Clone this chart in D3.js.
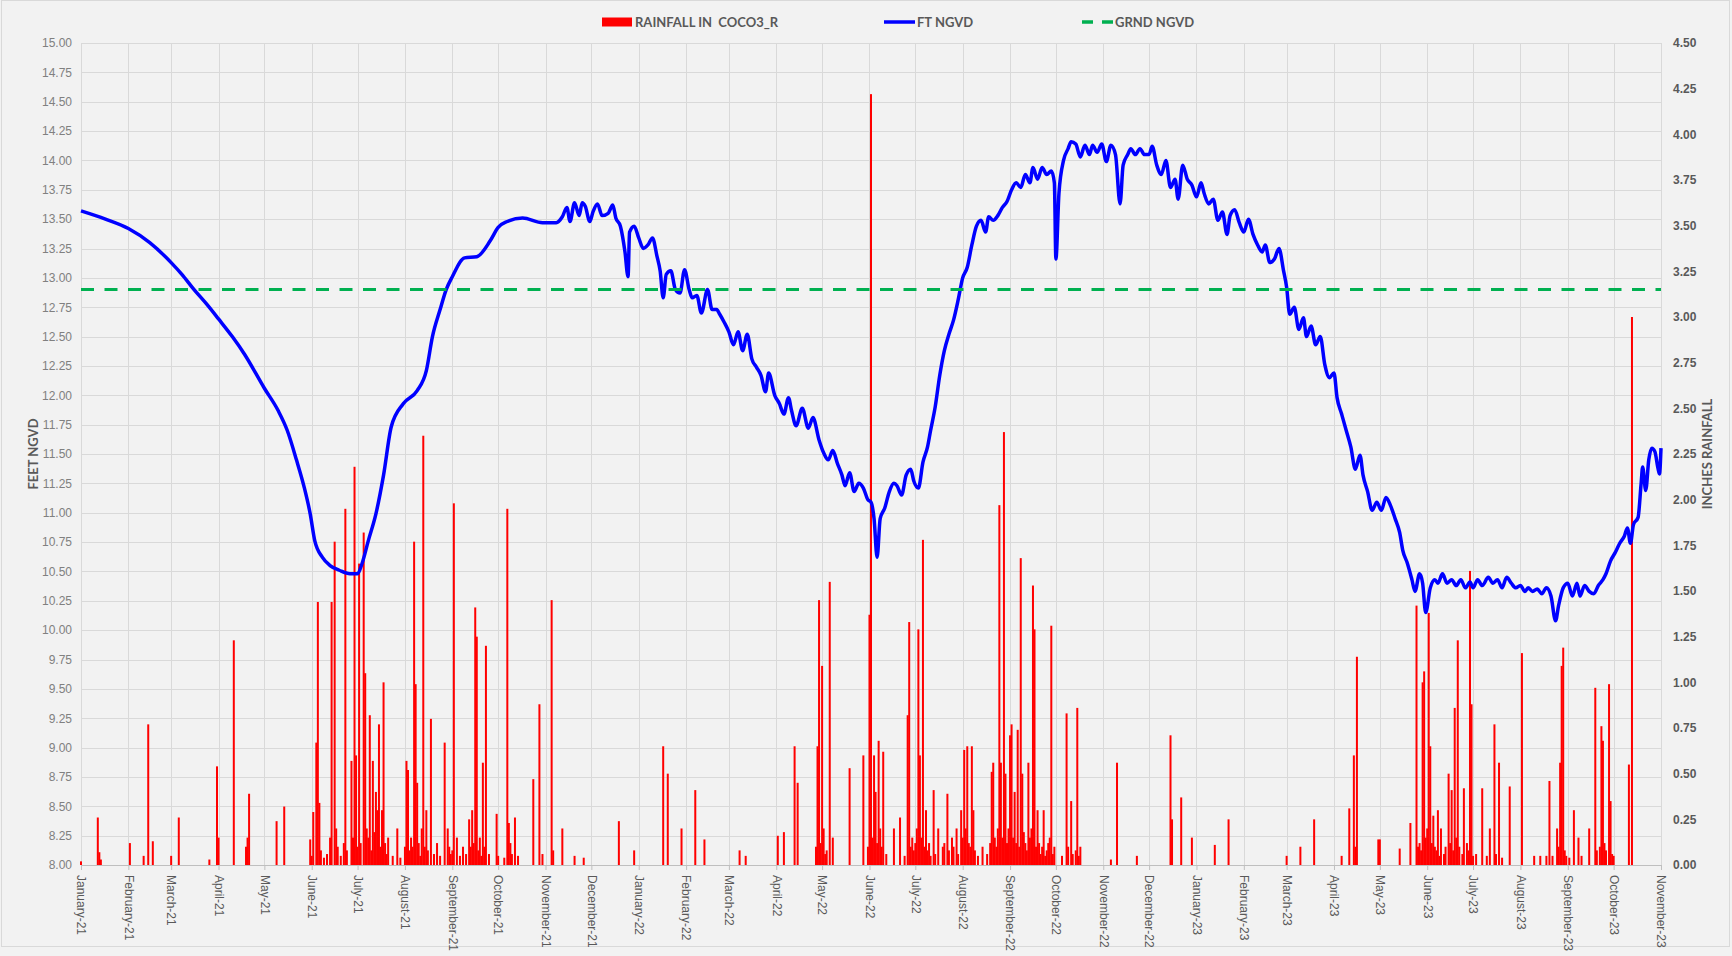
<!DOCTYPE html>
<html>
<head>
<meta charset="utf-8">
<script src="https://cdn.jsdelivr.net/npm/d3@7"></script>
<style>
  body { margin: 0; background: #f2f2f2; }
  svg { display: block; font-family: Lato, "Open Sans", sans-serif; }
</style>
</head>
<body>
<svg width="1732" height="956"></svg>
<script>
// water level (ft NGVD)
const levelDates = [
  "2021-01-01", "2021-01-17", "2021-02-01", "2021-02-15", "2021-03-01", "2021-03-08", "2021-03-16", "2021-03-24", "2021-04-01", "2021-04-10",
  "2021-04-18", "2021-05-01", "2021-05-10", "2021-05-16", "2021-05-22", "2021-05-27", "2021-05-31", "2021-06-03", "2021-06-08", "2021-06-13",
  "2021-06-19", "2021-06-26", "2021-07-01", "2021-07-04", "2021-07-08", "2021-07-13", "2021-07-18", "2021-07-23", "2021-07-31", "2021-08-09",
  "2021-08-15", "2021-08-19", "2021-08-24", "2021-08-28", "2021-09-01", "2021-09-09", "2021-09-17", "2021-09-26", "2021-10-01", "2021-10-07",
  "2021-10-17", "2021-10-30", "2021-11-08", "2021-11-12", "2021-11-15", "2021-11-17", "2021-11-20", "2021-11-23", "2021-11-25", "2021-11-27",
  "2021-11-30", "2021-12-02", "2021-12-05", "2021-12-08", "2021-12-12", "2021-12-15", "2021-12-17", "2021-12-20", "2021-12-23", "2021-12-25",
  "2021-12-26", "2021-12-29", "2022-01-01", "2022-01-04", "2022-01-07", "2022-01-10", "2022-01-13", "2022-01-15", "2022-01-17", "2022-01-19",
  "2022-01-22", "2022-01-25", "2022-01-28", "2022-01-31", "2022-02-03", "2022-02-05", "2022-02-08", "2022-02-11", "2022-02-15", "2022-02-18",
  "2022-02-21", "2022-02-23", "2022-02-26", "2022-03-01", "2022-03-04", "2022-03-07", "2022-03-10", "2022-03-13", "2022-03-16", "2022-03-19",
  "2022-03-22", "2022-03-25", "2022-03-27", "2022-03-31", "2022-04-03", "2022-04-06", "2022-04-09", "2022-04-11", "2022-04-14", "2022-04-18",
  "2022-04-22", "2022-04-25", "2022-04-29", "2022-05-02", "2022-05-05", "2022-05-08", "2022-05-11", "2022-05-14", "2022-05-16", "2022-05-19",
  "2022-05-22", "2022-05-25", "2022-05-28", "2022-05-31", "2022-06-02", "2022-06-04", "2022-06-06", "2022-06-08", "2022-06-11", "2022-06-14",
  "2022-06-17", "2022-06-19", "2022-06-22", "2022-06-25", "2022-06-28", "2022-06-30", "2022-07-03", "2022-07-06", "2022-07-09", "2022-07-11",
  "2022-07-14", "2022-07-17", "2022-07-20", "2022-07-23", "2022-07-26", "2022-07-29", "2022-08-01", "2022-08-04", "2022-08-07", "2022-08-10",
  "2022-08-13", "2022-08-16", "2022-08-18", "2022-08-21", "2022-08-24", "2022-08-27", "2022-08-30", "2022-09-02", "2022-09-05", "2022-09-08",
  "2022-09-11", "2022-09-14", "2022-09-16", "2022-09-19", "2022-09-22", "2022-09-25", "2022-09-28", "2022-09-30", "2022-10-01", "2022-10-03",
  "2022-10-06", "2022-10-09", "2022-10-11", "2022-10-14", "2022-10-17", "2022-10-20", "2022-10-23", "2022-10-25", "2022-10-28", "2022-10-31",
  "2022-11-03", "2022-11-06", "2022-11-09", "2022-11-12", "2022-11-14", "2022-11-17", "2022-11-19", "2022-11-22", "2022-11-25", "2022-11-28",
  "2022-12-01", "2022-12-03", "2022-12-06", "2022-12-09", "2022-12-12", "2022-12-15", "2022-12-18", "2022-12-20", "2022-12-23", "2022-12-26",
  "2022-12-29", "2023-01-01", "2023-01-04", "2023-01-06", "2023-01-09", "2023-01-12", "2023-01-15", "2023-01-18", "2023-01-21", "2023-01-23",
  "2023-01-26", "2023-01-29", "2023-02-01", "2023-02-04", "2023-02-07", "2023-02-10", "2023-02-13", "2023-02-15", "2023-02-18", "2023-02-21",
  "2023-02-24", "2023-02-27", "2023-03-01", "2023-03-03", "2023-03-06", "2023-03-09", "2023-03-12", "2023-03-14", "2023-03-17", "2023-03-20",
  "2023-03-23", "2023-03-26", "2023-03-29", "2023-04-01", "2023-04-03", "2023-04-06", "2023-04-09", "2023-04-12", "2023-04-15", "2023-04-18",
  "2023-04-20", "2023-04-23", "2023-04-26", "2023-04-29", "2023-05-02", "2023-05-05", "2023-05-08", "2023-05-11", "2023-05-14", "2023-05-16",
  "2023-05-19", "2023-05-22", "2023-05-24", "2023-05-27", "2023-05-29", "2023-05-31", "2023-06-03", "2023-06-06", "2023-06-08", "2023-06-11",
  "2023-06-14", "2023-06-17", "2023-06-20", "2023-06-23", "2023-06-26", "2023-06-29", "2023-07-01", "2023-07-04", "2023-07-07", "2023-07-11",
  "2023-07-14", "2023-07-17", "2023-07-20", "2023-07-23", "2023-07-26", "2023-07-29", "2023-08-01", "2023-08-04", "2023-08-06", "2023-08-09",
  "2023-08-12", "2023-08-15", "2023-08-18", "2023-08-21", "2023-08-24", "2023-08-26", "2023-08-29", "2023-09-01", "2023-09-04", "2023-09-07",
  "2023-09-09", "2023-09-12", "2023-09-15", "2023-09-18", "2023-09-21", "2023-09-24", "2023-09-26", "2023-09-29", "2023-10-02", "2023-10-05",
  "2023-10-08", "2023-10-10", "2023-10-12", "2023-10-14", "2023-10-17", "2023-10-19", "2023-10-20", "2023-10-22", "2023-10-24", "2023-10-26",
  "2023-10-28", "2023-10-30", "2023-10-31", "2023-11-01"
];
const levelFeet = [
  13.57, 13.50, 13.42, 13.30, 13.13, 13.03, 12.90, 12.78, 12.65, 12.50,
  12.35, 12.06, 11.87, 11.70, 11.45, 11.22, 10.99, 10.76, 10.62, 10.55,
  10.51, 10.48, 10.48, 10.57, 10.76, 10.99, 11.32, 11.73, 11.93, 12.04,
  12.21, 12.50, 12.73, 12.90, 13.01, 13.17, 13.18, 13.32, 13.43, 13.48,
  13.51, 13.47, 13.47, 13.52, 13.60, 13.48, 13.64, 13.53, 13.64, 13.61,
  13.48, 13.56, 13.63, 13.53, 13.55, 13.62, 13.51, 13.44, 13.22, 13.01,
  13.39, 13.44, 13.34, 13.25, 13.28, 13.34, 13.18, 13.06, 12.83, 13.03,
  13.06, 12.90, 12.87, 13.07, 12.90, 12.83, 12.85, 12.70, 12.90, 12.73,
  12.73, 12.69, 12.62, 12.54, 12.43, 12.54, 12.38, 12.52, 12.31, 12.24,
  12.17, 12.03, 12.19, 12.00, 11.93, 11.84, 11.98, 11.87, 11.74, 11.89,
  11.72, 11.81, 11.62, 11.51, 11.45, 11.53, 11.42, 11.32, 11.23, 11.34,
  11.18, 11.25, 11.21, 11.11, 11.09, 10.95, 10.62, 10.95, 11.04, 11.18,
  11.25, 11.23, 11.15, 11.32, 11.37, 11.27, 11.21, 11.43, 11.56, 11.70,
  11.90, 12.17, 12.38, 12.52, 12.64, 12.81, 13.00, 13.09, 13.28, 13.44,
  13.49, 13.39, 13.52, 13.49, 13.53, 13.60, 13.65, 13.75, 13.81, 13.77,
  13.88, 13.81, 13.94, 13.84, 13.94, 13.88, 13.91, 13.81, 13.16, 13.72,
  14.00, 14.10, 14.16, 14.14, 14.03, 14.13, 14.05, 14.13, 14.07, 14.14,
  13.99, 14.13, 14.05, 13.63, 13.96, 14.05, 14.10, 14.05, 14.10, 14.05,
  14.05, 14.12, 13.96, 13.88, 14.00, 13.77, 13.84, 13.67, 13.96, 13.84,
  13.79, 13.69, 13.81, 13.72, 13.63, 13.67, 13.49, 13.56, 13.37, 13.53,
  13.58, 13.47, 13.39, 13.50, 13.37, 13.28, 13.22, 13.28, 13.13, 13.16,
  13.25, 13.06, 12.92, 12.69, 12.75, 12.56, 12.66, 12.50, 12.59, 12.43,
  12.50, 12.26, 12.15, 12.19, 11.98, 11.84, 11.70, 11.56, 11.37, 11.49,
  11.32, 11.18, 11.02, 11.09, 11.02, 11.13, 11.06, 10.95, 10.83, 10.68,
  10.57, 10.43, 10.33, 10.48, 10.40, 10.15, 10.36, 10.43, 10.40, 10.48,
  10.40, 10.43, 10.38, 10.43, 10.36, 10.41, 10.36, 10.43, 10.38, 10.45,
  10.40, 10.43, 10.36, 10.45, 10.40, 10.36, 10.38, 10.33, 10.36, 10.33,
  10.35, 10.31, 10.36, 10.29, 10.08, 10.21, 10.36, 10.40, 10.29, 10.40,
  10.29, 10.38, 10.33, 10.31, 10.38, 10.43, 10.48, 10.59, 10.66, 10.74,
  10.80, 10.87, 10.74, 10.90, 10.96, 11.25, 11.39, 11.19, 11.45, 11.55,
  11.52, 11.38, 11.33, 11.55
];

// daily rainfall (inches)
const rainDates = [
  "2021-01-01", "2021-01-12", "2021-01-13", "2021-01-14", "2021-02-02", "2021-02-11", "2021-02-14", "2021-02-17", "2021-03-01", "2021-03-06",
  "2021-03-26", "2021-03-31", "2021-04-01", "2021-04-11", "2021-04-19", "2021-04-20", "2021-04-21", "2021-05-09", "2021-05-14", "2021-05-31",
  "2021-06-02", "2021-06-04", "2021-06-05", "2021-06-06", "2021-06-13", "2021-06-14", "2021-06-16", "2021-06-17", "2021-06-23", "2021-06-27",
  "2021-06-29", "2021-06-30", "2021-07-02", "2021-07-05", "2021-07-06", "2021-07-09", "2021-07-11", "2021-07-13", "2021-07-14", "2021-07-15",
  "2021-07-17", "2021-07-18", "2021-07-21", "2021-07-27", "2021-08-02", "2021-08-03", "2021-08-07", "2021-08-08", "2021-08-09", "2021-08-13",
  "2021-08-15", "2021-08-18", "2021-08-22", "2021-08-27", "2021-08-29", "2021-09-02", "2021-09-04", "2021-09-08", "2021-09-12", "2021-09-14",
  "2021-09-16", "2021-09-17", "2021-09-21", "2021-09-23", "2021-09-30", "2021-10-07", "2021-10-08", "2021-10-12", "2021-10-24", "2021-10-28",
  "2021-11-05", "2021-11-12", "2021-11-20", "2021-11-26", "2021-12-19", "2021-12-29", "2022-01-17", "2022-01-20", "2022-01-29", "2022-02-07",
  "2022-02-13", "2022-03-08", "2022-03-12", "2022-04-02", "2022-04-06", "2022-04-13", "2022-04-15", "2022-04-28", "2022-04-29", "2022-05-01",
  "2022-05-02", "2022-05-06", "2022-05-08", "2022-05-19", "2022-05-28", "2022-06-01", "2022-06-02", "2022-06-04", "2022-06-05", "2022-06-07",
  "2022-06-10", "2022-06-17", "2022-06-21", "2022-06-26", "2022-06-27", "2022-07-03", "2022-07-04", "2022-07-06", "2022-07-08", "2022-07-13",
  "2022-07-16", "2022-07-22", "2022-07-25", "2022-07-28", "2022-07-31", "2022-08-02", "2022-08-04", "2022-08-07", "2022-08-08", "2022-08-14",
  "2022-08-20", "2022-08-21", "2022-08-25", "2022-08-26", "2022-08-28", "2022-08-29", "2022-09-01", "2022-09-02", "2022-09-04", "2022-09-06",
  "2022-09-08", "2022-09-09", "2022-09-13", "2022-09-16", "2022-09-17", "2022-09-19", "2022-09-23", "2022-09-28", "2022-09-30", "2022-10-08",
  "2022-10-11", "2022-10-15", "2022-10-17", "2022-11-06", "2022-11-10", "2022-11-23", "2022-12-15", "2022-12-16", "2022-12-22", "2022-12-29",
  "2023-01-13", "2023-01-22", "2023-03-01", "2023-03-10", "2023-03-19", "2023-04-06", "2023-04-11", "2023-04-14", "2023-04-16", "2023-04-30",
  "2023-05-01", "2023-05-14", "2023-05-21", "2023-05-25", "2023-05-26", "2023-05-29", "2023-05-30", "2023-06-02", "2023-06-03", "2023-06-05",
  "2023-06-08", "2023-06-10", "2023-06-15", "2023-06-17", "2023-06-19", "2023-06-21", "2023-06-25", "2023-06-29", "2023-06-30", "2023-07-07",
  "2023-07-12", "2023-07-15", "2023-07-18", "2023-07-25", "2023-08-02", "2023-08-10", "2023-08-14", "2023-08-18", "2023-08-20", "2023-08-25",
  "2023-08-27", "2023-08-28", "2023-08-29", "2023-09-05", "2023-09-08", "2023-09-15", "2023-09-19", "2023-09-23", "2023-09-24", "2023-09-28",
  "2023-09-29", "2023-10-11", "2023-10-13",
  // smaller daily totals in the wet seasons
  "2021-06-01", "2021-06-07", "2021-06-09", "2021-06-11", "2021-06-18", "2021-06-20", "2021-06-22", "2021-06-24", "2021-06-28", "2021-07-01",
  "2021-07-03", "2021-07-07", "2021-07-08", "2021-07-10", "2021-07-12", "2021-07-16", "2021-07-19", "2021-07-20", "2021-07-24", "2021-07-29",
  "2021-08-01", "2021-08-04", "2021-08-05", "2021-08-06", "2021-08-10", "2021-08-11", "2021-08-12", "2021-08-14", "2021-08-16", "2021-08-20",
  "2021-08-24", "2021-08-30", "2021-08-31", "2021-09-01", "2021-09-06", "2021-09-10", "2021-09-13", "2021-09-15", "2021-09-18", "2021-09-19",
  "2021-09-20", "2021-09-22", "2021-09-25", "2021-10-01", "2021-10-05", "2021-10-09", "2021-10-10", "2021-10-14", "2021-10-30", "2021-11-06",
  "2022-04-27", "2022-04-30", "2022-05-03", "2022-05-04", "2022-05-31", "2022-06-03", "2022-06-06", "2022-06-08", "2022-06-09", "2022-06-12",
  "2022-06-24", "2022-06-28", "2022-06-29", "2022-06-30", "2022-07-01", "2022-07-02", "2022-07-05", "2022-07-07", "2022-07-09", "2022-07-10",
  "2022-07-11", "2022-07-14", "2022-07-19", "2022-07-20", "2022-07-23", "2022-07-26", "2022-07-29", "2022-08-01", "2022-08-03", "2022-08-05",
  "2022-08-06", "2022-08-09", "2022-08-11", "2022-08-17", "2022-08-19", "2022-08-22", "2022-08-23", "2022-08-24", "2022-08-27", "2022-08-30",
  "2022-08-31", "2022-09-03", "2022-09-05", "2022-09-07", "2022-09-10", "2022-09-11", "2022-09-12", "2022-09-14", "2022-09-15", "2022-09-18",
  "2022-09-20", "2022-09-21", "2022-09-22", "2022-09-24", "2022-09-25", "2022-09-26", "2022-09-27", "2022-09-29", "2022-10-05", "2022-10-09",
  "2022-10-12", "2022-10-14", "2022-10-16", "2023-04-15", "2023-05-27", "2023-05-28", "2023-05-31", "2023-06-01", "2023-06-04", "2023-06-06",
  "2023-06-07", "2023-06-09", "2023-06-12", "2023-06-13", "2023-06-16", "2023-06-18", "2023-06-20", "2023-06-22", "2023-06-24", "2023-06-27",
  "2023-06-28", "2023-07-01", "2023-07-03", "2023-07-10", "2023-07-16", "2023-07-20", "2023-08-22", "2023-08-26", "2023-08-30", "2023-08-31",
  "2023-09-02", "2023-09-10", "2023-09-20", "2023-09-22", "2023-09-25", "2023-09-26", "2023-09-30", "2023-10-01"
];
const rainInches = [
  0.02, 0.26, 0.07, 0.03, 0.12, 0.05, 0.77, 0.13, 0.05, 0.26,
  0.03, 0.54, 0.15, 1.23, 0.10, 0.15, 0.39, 0.24, 0.32, 0.14,
  0.29, 0.67, 1.44, 0.34, 0.15, 1.44, 1.77, 0.20, 1.95, 0.57,
  2.18, 0.60, 1.65, 1.82, 1.05, 0.82, 0.57, 0.40, 0.30, 0.77,
  0.30, 1.00, 0.15, 0.20, 0.57, 0.52, 1.77, 0.99, 0.45, 2.35,
  0.30, 0.80, 0.12, 0.67, 0.20, 1.98, 0.15, 0.10, 0.25, 0.30,
  1.41, 1.25, 0.56, 1.20, 0.28, 1.95, 0.23, 0.26, 0.47, 0.88,
  1.45, 0.20, 0.05, 0.04, 0.24, 0.08, 0.65, 0.50, 0.20, 0.41,
  0.14, 0.08, 0.05, 0.16, 0.18, 0.65, 0.45, 0.65, 1.45, 1.09,
  0.20, 1.55, 0.15, 0.53, 0.60, 1.37, 4.22, 0.60, 0.40, 0.68,
  0.62, 0.20, 0.26, 0.82, 1.33, 1.29, 0.60, 1.78, 0.30, 0.41,
  0.20, 0.39, 0.15, 0.20, 0.30, 0.63, 0.65, 0.65, 0.30, 0.10,
  0.51, 0.56, 1.97, 0.56, 2.37, 0.50, 0.71, 0.77, 0.40, 0.74,
  1.68, 0.50, 0.56, 1.53, 1.29, 0.30, 0.30, 1.31, 0.10, 0.83,
  0.35, 0.86, 0.10, 0.03, 0.56, 0.05, 0.71, 0.25, 0.37, 0.15,
  0.11, 0.25, 0.05, 0.10, 0.25, 0.05, 0.31, 0.60, 1.14, 0.14,
  0.14, 0.09, 0.23, 1.42, 0.10, 1.00, 1.06, 1.38, 0.65, 0.27,
  0.30, 0.20, 0.50, 0.41, 0.86, 1.23, 0.42, 1.61, 0.88, 0.42,
  0.20, 0.77, 0.56, 0.43, 1.16, 0.05, 0.05, 0.05, 0.46, 0.20,
  0.56, 1.09, 1.19, 0.30, 0.15, 0.20, 0.97, 0.76, 0.68, 0.99,
  0.35, 0.55, 3.00,
  0.05, 0.08, 0.04, 0.06, 0.10, 0.05, 0.12, 0.08, 0.15, 0.10,
  0.12, 0.20, 0.15, 0.08, 0.18, 0.10, 0.12, 0.06, 0.05, 0.04,
  0.10, 0.08, 0.15, 0.10, 0.12, 0.05, 0.20, 0.10, 0.08, 0.06,
  0.05, 0.10, 0.06, 0.08, 0.05, 0.06, 0.10, 0.12, 0.08, 0.15,
  0.05, 0.10, 0.06, 0.05, 0.04, 0.12, 0.06, 0.05, 0.06, 0.08,
  0.10, 0.12, 0.06, 0.08, 0.10, 0.15, 0.12, 0.20, 0.10, 0.06,
  0.05, 0.10, 0.15, 0.08, 0.12, 0.20, 0.15, 0.10, 0.08, 0.12,
  0.05, 0.06, 0.10, 0.12, 0.08, 0.10, 0.06, 0.15, 0.20, 0.12,
  0.10, 0.08, 0.05, 0.06, 0.12, 0.15, 0.10, 0.20, 0.15, 0.12,
  0.20, 0.15, 0.12, 0.10, 0.18, 0.12, 0.08, 0.15, 0.20, 0.10,
  0.12, 0.06, 0.10, 0.05, 0.08, 0.12, 0.15, 0.06, 0.05, 0.10,
  0.06, 0.08, 0.05, 0.10, 0.12, 0.08, 0.15, 0.20, 0.12, 0.10,
  0.08, 0.05, 0.06, 0.10, 0.12, 0.08, 0.15, 0.10, 0.06, 0.12,
  0.08, 0.05, 0.06, 0.05, 0.06, 0.04, 0.05, 0.10, 0.08, 0.05,
  0.04, 0.05, 0.08, 0.10, 0.12, 0.08, 0.06, 0.05
];

const groundNgvd = 12.90;
const seriesNames = ["RAINFALL IN  COCO3_R", "FT NGVD", "GRND NGVD"];
const axisTitles = ["FEET NGVD", "INCHES RAINFALL"];
const feetTicks = d3.range(8, 15.001, 0.25);
const inchTicks = d3.range(0, 4.501, 0.25);

const parseDate = d3.timeParse("%Y-%m-%d");

function drawChart() {
  const svg = d3.select("svg");
  const area = { left: 81, right: 1661, top: 43, bottom: 865 };

  svg
    .append("rect")
    .attr("x", 1.5)
    .attr("y", 0.5)
    .attr("width", 1728)
    .attr("height", 946)
    .style("fill", "#f2f2f2")
    .style("stroke", "#d9d9d9");

  const scX = d3
    .scaleTime()
    .domain([parseDate("2021-01-01"), parseDate("2023-11-01")])
    .range([area.left, area.right]);
  const scFeet = d3.scaleLinear().domain([8, 15]).range([area.bottom, area.top]);
  const scRain = d3.scaleLinear().domain([0, 4.5]).range([area.bottom, area.top]);

  // gridlines
  const months = scX.ticks(d3.timeMonth.every(1));
  svg
    .append("g")
    .selectAll("line")
    .data(feetTicks)
    .enter()
    .append("line")
    .attr("x1", area.left)
    .attr("x2", area.right)
    .attr("y1", (d) => Math.round(scFeet(d)) + 0.5)
    .attr("y2", (d) => Math.round(scFeet(d)) + 0.5)
    .style("stroke", "#d9d9d9");
  svg
    .append("g")
    .selectAll("line")
    .data(months)
    .enter()
    .append("line")
    .attr("x1", (d) => Math.round(scX(d)) + 0.5)
    .attr("x2", (d) => Math.round(scX(d)) + 0.5)
    .attr("y1", area.top)
    .attr("y2", area.bottom)
    .style("stroke", "#d9d9d9");

  // x axis
  const axisX = d3
    .axisBottom(scX)
    .ticks(d3.timeMonth.every(1))
    .tickFormat(d3.timeFormat("%B-%y"))
    .tickSize(5)
    .tickSizeOuter(0);
  const gX = svg
    .append("g")
    .attr("transform", `translate(0, ${area.bottom})`)
    .call(axisX);
  gX.select(".domain").style("stroke", "#bfbfbf");
  gX.selectAll(".tick line").style("stroke", "#bfbfbf");
  gX.selectAll("text")
    .attr("transform", "rotate(90)")
    .attr("x", 10)
    .attr("y", 0)
    .attr("dy", "0.35em")
    .style("text-anchor", "start")
    .style("font-size", "12px")
    .style("fill", "#595959");

  // y axes
  const axisLeft = d3
    .axisLeft(scFeet)
    .tickValues(feetTicks)
    .tickFormat(d3.format(".2f"))
    .tickSize(0)
    .tickPadding(9);
  const gL = svg
    .append("g")
    .attr("transform", `translate(${area.left}, 0)`)
    .call(axisLeft);
  gL.select(".domain").remove();
  gL.selectAll("text").style("font-size", "12px").style("fill", "#808080");

  const axisRight = d3
    .axisRight(scRain)
    .tickValues(inchTicks)
    .tickFormat(d3.format(".2f"))
    .tickSize(0)
    .tickPadding(12);
  const gR = svg
    .append("g")
    .attr("transform", `translate(${area.right}, 0)`)
    .call(axisRight);
  gR.select(".domain").remove();
  gR.selectAll("text")
    .style("font-size", "12px")
    .style("font-weight", "bold")
    .style("fill", "#595959");

  // axis titles
  const midY = (area.top + area.bottom) / 2;
  svg
    .append("text")
    .attr("transform", `translate(38, ${midY}) rotate(-90)`)
    .style("text-anchor", "middle")
    .style("font-size", "13px")
    .style("font-weight", "bold")
    .style("fill", "#595959")
    .text(axisTitles[0]);
  svg
    .append("text")
    .attr("transform", `translate(1712, ${midY}) rotate(-90)`)
    .style("text-anchor", "middle")
    .style("font-size", "13px")
    .style("font-weight", "bold")
    .style("fill", "#595959")
    .text(axisTitles[1]);

  // rainfall bars
  const rain = rainDates.map((d, i) => ({ date: parseDate(d), value: rainInches[i] }));
  svg
    .append("g")
    .selectAll("rect")
    .data(rain)
    .enter()
    .append("rect")
    .attr("x", (d) => scX(d.date) - 1)
    .attr("y", (d) => scRain(d.value))
    .attr("width", 2)
    .attr("height", (d) => area.bottom - scRain(d.value))
    .style("fill", "#ff0000");

  // water level line
  const level = levelDates.map((d, i) => ({ date: parseDate(d), value: levelFeet[i] }));
  const line = d3
    .line()
    .x((d) => scX(d.date))
    .y((d) => scFeet(d.value))
    .curve(d3.curveMonotoneX);
  svg
    .append("path")
    .datum(level)
    .attr("d", line)
    .style("fill", "none")
    .style("stroke", "#0000ff")
    .style("stroke-width", 3.5)
    .style("stroke-linejoin", "round");

  // ground level
  svg
    .append("line")
    .attr("x1", area.left)
    .attr("x2", area.right)
    .attr("y1", scFeet(groundNgvd))
    .attr("y2", scFeet(groundNgvd))
    .style("stroke", "#00b050")
    .style("stroke-width", 3)
    .style("stroke-dasharray", "13,10.5");

  drawLegend(svg);
}

function drawLegend(svg) {
  const y = 22;
  const items = [
    { x: 602, type: "rect", color: "#ff0000" },
    { x: 884, type: "line", color: "#0000ff" },
    { x: 1082, type: "dash", color: "#00b050" },
  ];
  const g = svg.append("g");
  items.forEach((item, i) => {
    if (item.type === "rect") {
      g.append("rect")
        .attr("x", item.x)
        .attr("y", y - 4.5)
        .attr("width", 30)
        .attr("height", 9)
        .style("fill", item.color);
    } else {
      g.append("line")
        .attr("x1", item.x)
        .attr("x2", item.x + 31)
        .attr("y1", y)
        .attr("y2", y)
        .style("stroke", item.color)
        .style("stroke-width", 3.5)
        .style("stroke-dasharray", item.type === "dash" ? "11,9" : null);
    }
    g.append("text")
      .attr("x", item.x + 33)
      .attr("y", y)
      .attr("dy", "0.36em")
      .style("white-space", "pre")
      .style("font-size", "13px")
      .style("font-weight", "bold")
      .style("fill", "#595959")
      .text(seriesNames[i]);
  });
}

drawChart();
</script>
</body>
</html>
